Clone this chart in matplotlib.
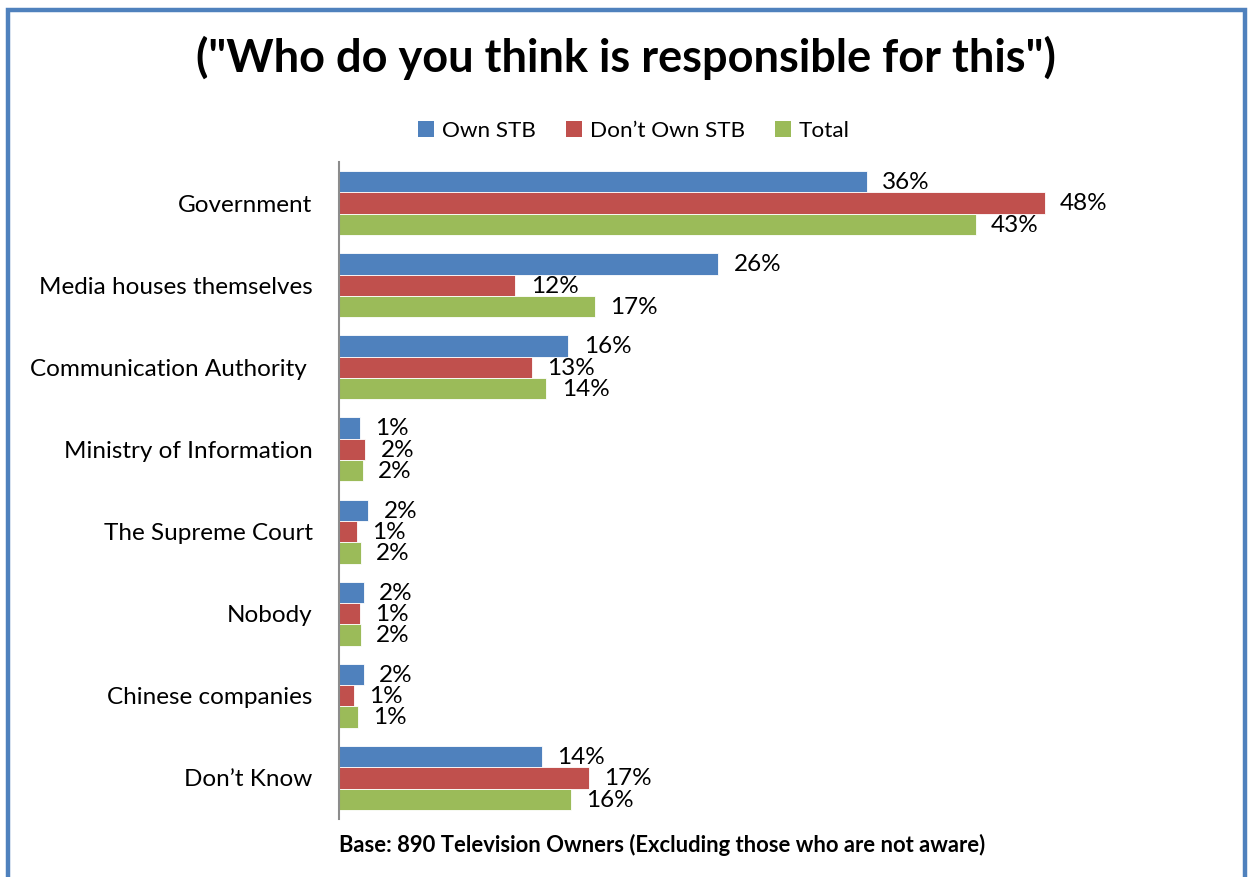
import matplotlib
matplotlib.use("Agg")
import matplotlib.pyplot as plt
from matplotlib.patches import Rectangle, Patch
import numpy as np

categories = ["Government", "Media houses themselves", "Communication Authority ",
              "Ministry of Information", "The Supreme Court", "Nobody",
              "Chinese companies", "Don\u2019t Know"]
series_names = ["Own STB", "Don\u2019t Own STB", "Total"]
own_stb = [35.9, 25.8, 15.6, 1.4, 2.0, 1.7, 1.7, 13.8]
dont_own_stb = [48.0, 12.0, 13.1, 1.8, 1.2, 1.4, 1.0, 17.0]
total = [43.3, 17.4, 14.1, 1.6, 1.5, 1.5, 1.3, 15.8]
own_labels = ["36%", "26%", "16%", "1%", "2%", "2%", "2%", "14%"]
dont_labels = ["48%", "12%", "13%", "2%", "1%", "1%", "1%", "17%"]
total_labels = ["43%", "17%", "14%", "2%", "2%", "2%", "1%", "16%"]

title = "(\"Who do you think is responsible for this\")"
footnote = "Base: 890 Television Owners (Excluding those who are not aware)"

colors = ["#4F81BD", "#C0504D", "#9BBB59"]
FONT = ["Lato", "DejaVu Sans"]
plt.rcParams["font.family"] = FONT

W, H = 1248, 877
fig = plt.figure(figsize=(W / 100, H / 100), dpi=100)

# frame
fig.patches.append(Rectangle((7.5 / W, -0.01), (1245 - 7.5) / W, 1.01 - 9.5 / H,
                             transform=fig.transFigure, fill=False,
                             edgecolor="#4F81BD", linewidth=3.2))

ax_left, ax_top, ax_bot = 339, 162, 819
xmax = 60
px_per = 14.7
ax = fig.add_axes([ax_left / W, 1 - ax_bot / H, xmax * px_per / W, (ax_bot - ax_top) / H])

y = np.arange(len(categories))
h = 0.26
data = [own_stb, dont_own_stb, total]
labels = [own_labels, dont_labels, total_labels]
offsets = [-h, 0, h]
for vals, labs, off, c, name in zip(data, labels, offsets, colors, series_names):
    bars = ax.barh(y + off, vals, height=h, color=c, edgecolor="white",
                   linewidth=0.6, label=name)
    for b, lab in zip(bars, labs):
        ax.annotate(lab, (b.get_width(), b.get_y() + b.get_height() / 2),
                    xytext=(11, -0.6), textcoords="offset points",
                    ha="left", va="center", fontsize=17.5, color="black")

ax.set_ylim(len(categories) - 0.5, -0.5)
ax.set_xlim(0, xmax)
ax.set_yticks(y)
ax.set_yticklabels(categories, fontsize=17.5)
ax.tick_params(axis="y", length=0, pad=19)
ax.set_xticks([])
for s in ["top", "right", "bottom"]:
    ax.spines[s].set_visible(False)
ax.spines["left"].set_color("#8C8C8C")
ax.spines["left"].set_linewidth(1.5)

fig.text(626 / W, 1 - 58 / H, title, ha="center", va="center",
         fontsize=32.5, fontweight="bold")

handles = [Patch(facecolor=c, edgecolor="none") for c in colors]
fig.legend(handles, series_names, loc="center", bbox_to_anchor=(634 / W, 1 - 131 / H),
           ncol=3, frameon=False, fontsize=16.2, handlelength=0.7, handleheight=0.7,
           handletextpad=0.35, columnspacing=1.35)

fig.text(339 / W, 1 - 845 / H, footnote, ha="left", va="center",
         fontsize=15.8, fontweight="bold")

fig.savefig("out.png", dpi=100)
